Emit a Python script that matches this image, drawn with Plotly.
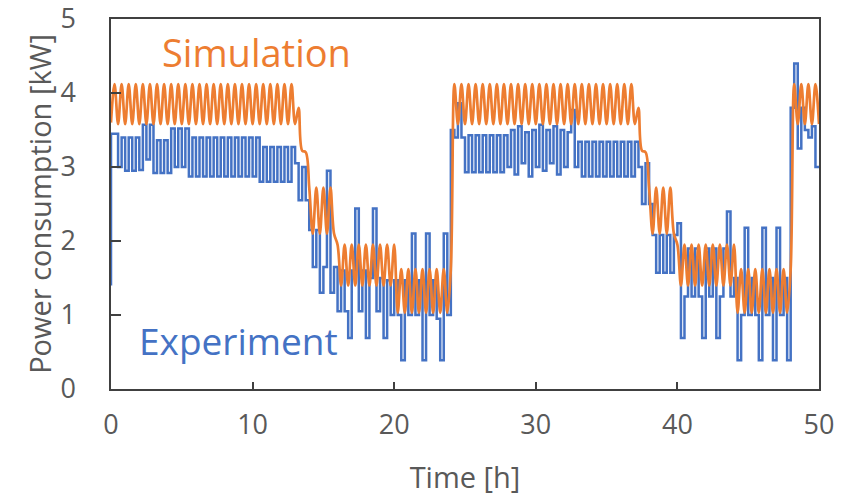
import plotly.graph_objects as go

# time grid: one reading every 0.25 h from 0 to 50 h
time_h = [i * 0.25 for i in range(201)]

# Simulation power consumption [kW] (one value per 0.25 h)
simulation_kw = [
    3.6,
    4.12, 3.58, 4.12, 3.58, 4.12, 3.58, 4.12, 3.58,
    4.12, 3.58, 4.12, 3.58, 4.12, 3.58, 4.12, 3.58,
    4.12, 3.58, 4.12, 3.58, 4.12, 3.58, 4.12, 3.58,
    4.12, 3.58, 4.12, 3.58, 4.12, 3.58, 4.12, 3.58,
    4.12, 3.58, 4.12, 3.58, 4.12, 3.58, 4.12, 3.58,
    4.12, 3.58, 4.12, 3.58, 4.12, 3.58, 4.12, 3.58,
    4.12, 3.58, 4.12, 3.58, 3.8, 3.22, 3.2, 2.72,
    2.1, 2.72, 2.1, 2.72, 2.1, 2.72, 2.1, 1.95,
    1.4, 1.95, 1.4, 1.95, 1.4, 1.95, 1.4, 1.95,
    1.4, 1.95, 1.4, 1.95, 1.4, 1.95, 1.4, 1.95,
    1.03, 1.62, 1.03, 1.62, 1.03, 1.62, 1.03, 1.62,
    1.03, 1.62, 1.03, 1.62, 1.03, 1.62, 1.03, 1.62,
    4.12, 3.58, 4.12, 3.58, 4.12, 3.58, 4.12, 3.58,
    4.12, 3.58, 4.12, 3.58, 4.12, 3.58, 4.12, 3.58,
    4.12, 3.58, 4.12, 3.58, 4.12, 3.58, 4.12, 3.58,
    4.12, 3.58, 4.12, 3.58, 4.12, 3.58, 4.12, 3.58,
    4.12, 3.58, 4.12, 3.58, 4.12, 3.58, 4.12, 3.58,
    4.12, 3.58, 4.12, 3.58, 4.12, 3.58, 4.12, 3.58,
    4.12, 3.58, 4.12, 3.58, 3.8, 3.22, 3.2, 2.72,
    2.1, 2.72, 2.1, 2.72, 2.1, 2.72, 2.1, 1.95,
    1.4, 1.95, 1.4, 1.95, 1.4, 1.95, 1.4, 1.95,
    1.4, 1.95, 1.4, 1.95, 1.4, 1.95, 1.4, 1.95,
    1.03, 1.62, 1.03, 1.62, 1.03, 1.62, 1.03, 1.62,
    1.03, 1.62, 1.03, 1.62, 1.03, 1.62, 1.03, 1.62,
    4.12, 3.58, 4.12, 3.58, 4.12, 3.58, 4.12, 3.58,
]

# Experiment power consumption [kW] (one value per 0.25 h)
experiment_kw = [
    1.4,
    3.45, 3.45, 3.0, 3.4, 2.95, 3.4, 2.95, 3.4,
    2.96, 3.57, 3.1, 3.57, 2.92, 3.36, 2.92, 3.36,
    2.92, 3.52, 3.0, 3.52, 3.0, 3.52, 2.87, 3.4,
    2.87, 3.4, 2.87, 3.4, 2.87, 3.4, 2.87, 3.4,
    2.87, 3.4, 2.87, 3.4, 2.87, 3.4, 2.87, 3.4,
    2.87, 3.4, 2.8, 3.27, 2.8, 3.27, 2.8, 3.27,
    2.8, 3.27, 2.8, 3.27, 3.05, 2.55, 3.0, 2.55,
    2.15, 1.65, 2.15, 1.3, 1.65, 2.95, 1.3, 1.65,
    1.05, 1.6, 1.05, 0.69, 1.6, 2.44, 1.05, 1.6,
    0.69, 1.5, 2.44, 1.05, 1.5, 0.69, 1.47, 1.0,
    1.47, 1.0, 0.39, 1.47, 1.0, 2.1, 1.0, 1.47,
    0.39, 2.1, 1.0, 1.47, 0.95, 0.39, 2.1, 1.0,
    3.5, 3.4, 3.86, 3.4, 2.93, 3.43, 2.93, 3.43,
    2.93, 3.43, 2.93, 3.43, 2.93, 3.43, 2.93, 3.43,
    3.0, 3.5, 2.9, 3.55, 3.05, 3.47, 2.87, 3.5,
    3.0, 3.57, 2.95, 3.5, 3.05, 3.55, 2.9, 3.5,
    3.0, 3.47, 3.77, 3.0, 3.34, 2.87, 3.34, 2.87,
    3.34, 2.87, 3.34, 2.87, 3.34, 2.87, 3.34, 2.87,
    3.34, 2.87, 3.34, 2.87, 3.34, 3.0, 2.5, 3.05,
    2.5, 2.08, 1.57, 2.08, 1.57, 2.08, 1.57, 2.08,
    2.24, 0.69, 1.25, 1.9, 1.25, 1.9, 1.25, 0.69,
    1.9, 1.25, 1.9, 0.69, 1.25, 1.9, 2.4, 1.25,
    1.5, 0.39, 1.0, 2.18, 1.0, 1.5, 1.0, 0.39,
    2.18, 1.0, 1.5, 0.39, 2.18, 1.0, 1.5, 0.39,
    3.8, 4.4, 3.25, 3.8, 3.5, 3.4, 3.55, 3.0,
]

x_ticks = [0, 10, 20, 30, 40, 50]
y_ticks = [0, 1, 2, 3, 4, 5]

BLUE = "#4472C4"
ORANGE = "#ED7D31"
GREY = "#595959"
FONT = "Open Sans"

fig = go.Figure()
fig.add_trace(go.Scatter(
    x=time_h, y=experiment_kw, mode="lines", name="Experiment",
    line=dict(color=BLUE, width=2.5, shape="vh"),
))
fig.add_trace(go.Scatter(
    x=time_h, y=simulation_kw, mode="lines", name="Simulation",
    line=dict(color=ORANGE, width=2.7, shape="spline", smoothing=1.0),
))

fig.add_annotation(x=10.3, y=4.55, text="Simulation", showarrow=False,
                   xanchor="center", yanchor="middle",
                   font=dict(family=FONT, size=38, color=ORANGE))
fig.add_annotation(x=8.97, y=0.66, text="Experiment", showarrow=False,
                   xanchor="center", yanchor="middle",
                   font=dict(family=FONT, size=37, color=BLUE))

fig.update_layout(
    width=851, height=498,
    margin=dict(l=111, r=32, t=19, b=109, autoexpand=False),
    paper_bgcolor="white", plot_bgcolor="white",
    showlegend=False,
    font=dict(family=FONT, color=GREY),
    xaxis=dict(
        range=[0, 50], tickvals=x_ticks, ticktext=[str(v) for v in x_ticks],
        showgrid=False, zeroline=False, automargin=False,
        showline=True, linecolor="#404040", linewidth=1.5, mirror=True,
        ticks="inside", ticklen=7, tickwidth=1.5, tickcolor="#404040",
        tickfont=dict(family=FONT, size=27, color=GREY),
        ticklabelstandoff=11, ticklabeloverflow="allow",
        title=dict(text="Time [h]", font=dict(family=FONT, size=29, color=GREY), standoff=27),
    ),
    yaxis=dict(
        range=[0, 5], tickvals=y_ticks, ticktext=[str(v) for v in y_ticks],
        showgrid=False, zeroline=False, automargin=False,
        showline=True, linecolor="#404040", linewidth=1.5, mirror=True,
        ticks="inside", ticklen=10, tickwidth=1.5, tickcolor="#404040",
        tickfont=dict(family=FONT, size=27, color=GREY),
        ticklabelstandoff=28, ticklabeloverflow="allow",
        title=dict(text="Power consumption [kW]", font=dict(family=FONT, size=29, color=GREY), standoff=0),
    ),
)

# remove the browser's default 8px page margin so the figure sits at the window origin
fig.write_html("out.html", config={"displayModeBar": False},
               post_script="document.body.style.margin='0';")
